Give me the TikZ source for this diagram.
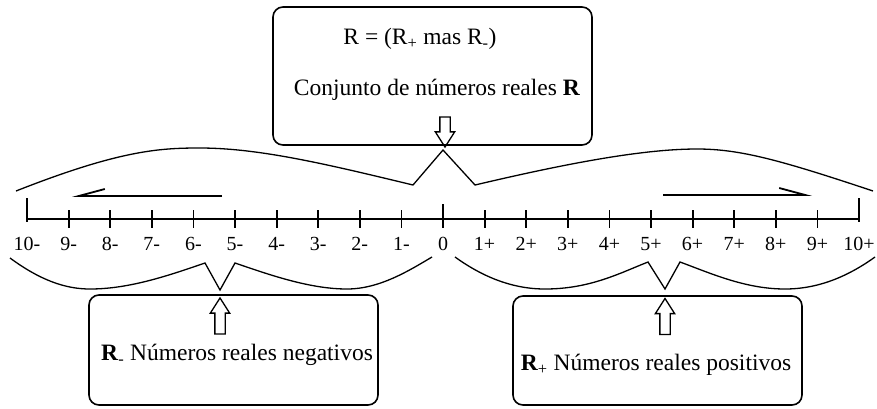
\documentclass[tikz,border=0pt]{standalone}
\usepackage{fontspec}
\setmainfont{Liberation Serif}
\usetikzlibrary{shapes.arrows, arrows.meta, positioning}

\begin{document}
\begin{tikzpicture}[
    x=1pt, y=-1pt,
    box/.style={rectangle, draw=black, line width=1.6pt, rounded corners=10pt, inner sep=0pt},
    txt/.style={font=\fontsize{23.5}{28}\selectfont, inner sep=0pt},
    lbl/.style={font=\fontsize{20}{24}\selectfont, inner sep=0pt, anchor=base},
    hollow/.style={single arrow, draw=black, line width=1.3pt, inner sep=4.5pt, minimum width=18pt, single arrow head extend=4.5pt, single arrow tip angle=65},
    axis/.style={line width=1.8pt},
    brace/.style={line width=1.3pt},
    arrow/.style={line width=1.8pt, -{Straight Barb[harpoon, length=26pt, width=14pt, line width=1.8pt]}}
]
\useasboundingbox (0,0) rectangle (877,408);

\node[box, minimum width=319pt, minimum height=138pt] (top) at (432.5,76) {};
\node[box, minimum width=289pt, minimum height=110pt] (neg) at (233.5,350) {};
\node[box, minimum width=289pt, minimum height=109pt] (pos) at (657.5,350.5) {};

\node[txt] (sum) at (420,39) {R = (R\textsubscript{+} mas R\textsubscript{-})};
\node[txt] (conj) at (437,90) {Conjunto de números reales \textbf{R}};
\node[txt] (negtxt) at (237,355) {\textbf{R}\textsubscript{-} Números reales negativos};
\node[txt] (postxt) at (656,365) {\textbf{R}\textsubscript{+} Números reales positivos};

\node[hollow, rotate=-90, minimum height=30pt] (down) at (445,128) {};
\node[hollow, rotate=90, minimum height=36pt] (upneg) at (220,320) {};
\node[hollow, rotate=90, minimum height=36pt] (uppos) at (665,320.5) {};

\foreach \i in {-10,...,10}
    \coordinate (t\i) at ({443+41.6*\i},219);
\draw[axis] (t-10) -- (t10);
\foreach \i in {-9,...,-1,1,2,...,9}
    \draw[axis] (t\i) ++(0,-9) -- ++(0,18);
\draw[axis] (t-10) ++(0,-21) -- ++(0,24);
\draw[axis] (t10) ++(0,-21) -- ++(0,24);
\draw[axis] (t0) ++(0,-15) -- ++(0,24);

\foreach \i in {1,...,10} {
    \node[lbl] (n\i) at ({443-41.6*\i},250) {\i-};
    \node[lbl] (p\i) at ({443+41.6*\i},250) {\i+};
}
\node[lbl] (zero) at (443,250) {0};

\coordinate (ls) at (222,196);
\coordinate (le) at (72,196);
\coordinate (rs) at (663,195);
\coordinate (re) at (812,195);
\draw[arrow, -{Straight Barb[harpoon, swap, length=26pt, width=14pt, line width=1.8pt]}] (ls) -- (le);
\draw[arrow] (rs) -- (re);

\draw[brace] (16,191) .. controls (120,150) and (160,148) .. (200,148)
    .. controls (260,148) and (330,165) .. (413,185) -- (443,150) -- (475,185)
    .. controls (560,165) and (640,149) .. (697,149)
    .. controls (740,149) and (780,160) .. (873,191);
\draw[brace] (10,258) .. controls (40,280) and (65,289) .. (90,289)
    .. controls (130,289) and (170,275) .. (205,263) -- (220,290) -- (235,263)
    .. controls (270,275) and (310,289) .. (347,289)
    .. controls (380,289) and (410,270) .. (432,257);
\draw[brace] (455,257) .. controls (480,275) and (510,289) .. (545,289)
    .. controls (590,289) and (620,273) .. (648,262) -- (665,289) -- (680,262)
    .. controls (710,273) and (745,289) .. (785,289)
    .. controls (820,289) and (850,275) .. (875,257);

\end{tikzpicture}
\end{document}
